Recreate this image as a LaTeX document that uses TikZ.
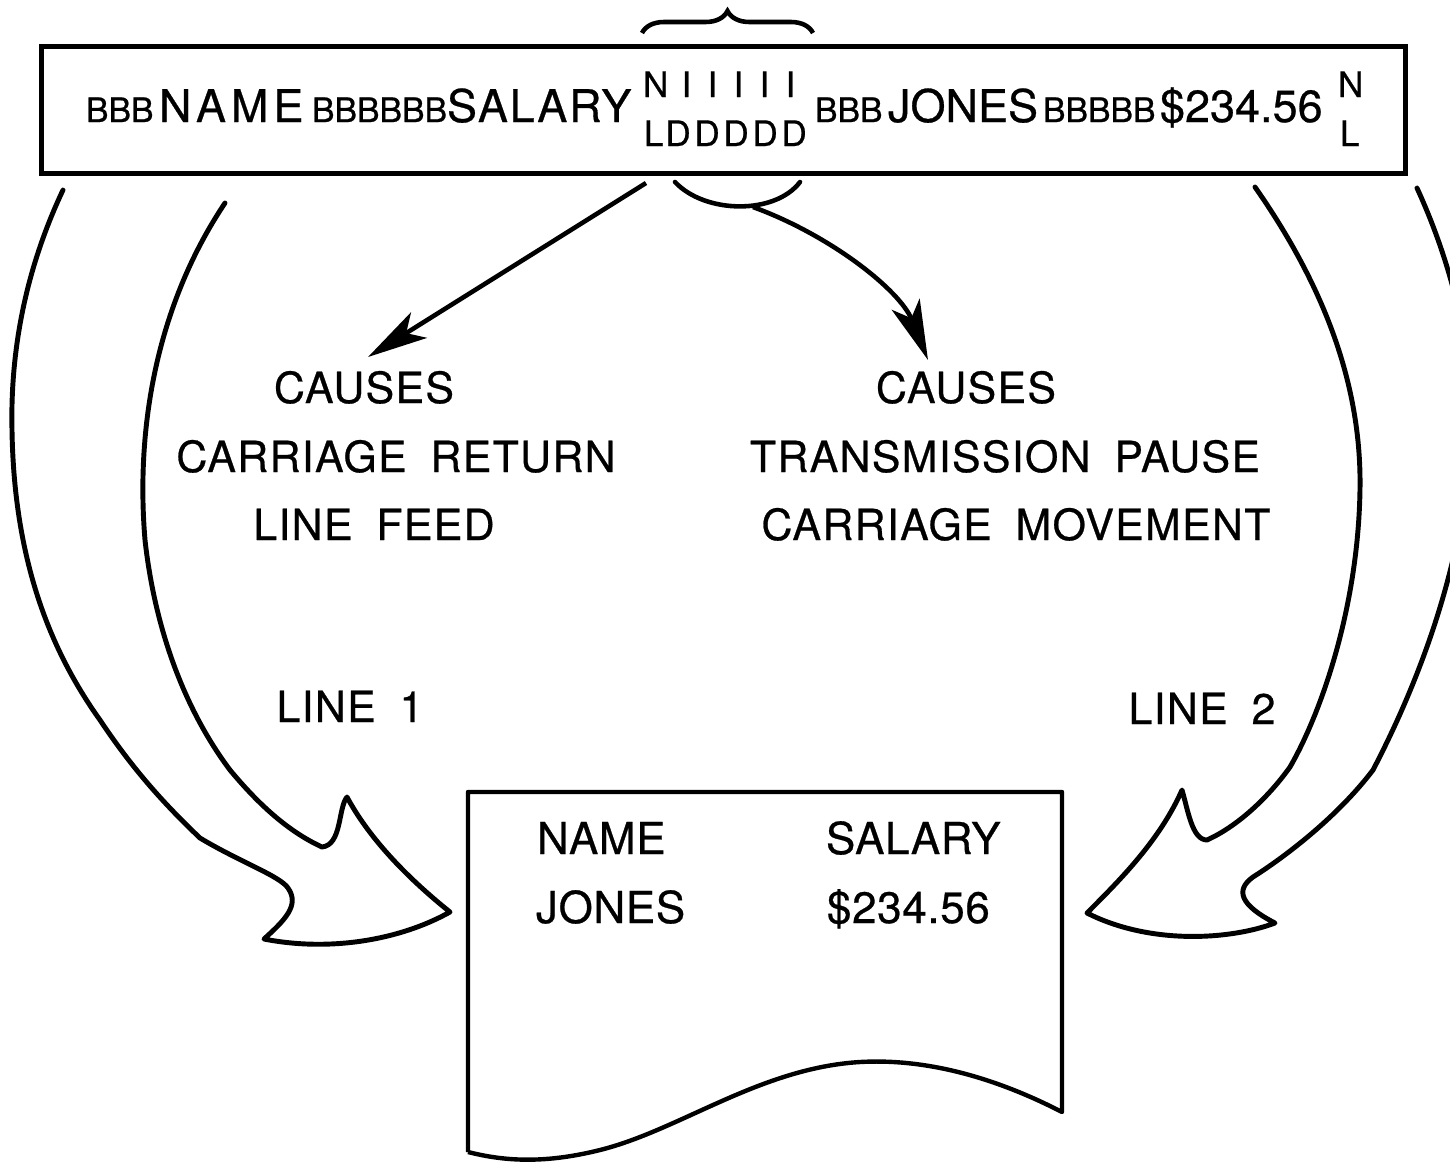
\documentclass[tikz,border=0pt]{standalone}
\usepackage{fontspec}
\setmainfont{TeX Gyre Heros}[FakeBold=0.6]
\newfontfamily\capfont[LetterSpace=3,WordSpace=1.8,FakeBold=0.6]{TeX Gyre Heros}
\newfontfamily\docfont[LetterSpace=1.5,FakeBold=0.6]{TeX Gyre Heros}
\newfontfamily\widefont[LetterSpace=11,FakeBold=0.6]{TeX Gyre Heros}
\newfontfamily\semifont[LetterSpace=4,FakeBold=0.6]{TeX Gyre Heros}
\usetikzlibrary{arrows.meta,decorations.pathreplacing}

\newcommand\bigtxt{\fontsize{12.8pt}{14pt}\selectfont}
\newcommand\widetxt{\widefont\fontsize{12.8pt}{14pt}\selectfont}
\newcommand\semitxt{\semifont\fontsize{12.8pt}{14pt}\selectfont}
\newcommand\smalltxt{\fontsize{9.6pt}{10pt}\selectfont}
\newcommand\stacktxt{\fontsize{10pt}{11pt}\selectfont}
\newcommand\captxt{\capfont\fontsize{12.2pt}{14pt}\selectfont}
\newcommand\doctxt{\docfont\fontsize{12.5pt}{14pt}\selectfont}
\newcommand\icell[1]{\makebox[0.26cm][c]{#1}}
\newcommand\dcell[1]{\makebox[0.29cm][c]{#1}}

\begin{document}
\begin{tikzpicture}[x=0.01cm,y=-0.01cm,
  every node/.style={inner sep=0pt,outer sep=0pt},
  rec/.style={line width=1.25pt},
  bigarrow/.style={line width=1.4pt,line join=round,line cap=round},
  lbl/.style={anchor=base,font=\captxt},
  doc/.style={anchor=base west,font=\doctxt},
  big/.style={anchor=base west,font=\bigtxt},
  sml/.style={anchor=base west,font=\smalltxt},
  stk/.style={anchor=base west,font=\stacktxt},
  ptr/.style={line width=1.3pt,-{Stealth[length=0.6cm,width=0.3cm,inset=0.15cm]}}
]
\clip (0,0) rectangle (1450,1162);

% --- the transmitted record ---
\node[draw,rec,minimum width=13.63cm,minimum height=1.27cm] (record) at (723.5,110) {};
\node[sml] (b1) at (86,122) {BBB};
\node[big,font=\widetxt] (w1) at (159,122) {NAME};
\node[sml] (b2) at (312,122) {BBBBBB};
\node[big,font=\semitxt] (w2) at (447,122) {SALARY};
\node[stk] (nl1) at (643,97) {N\hspace{0.05cm}\icell{I}\icell{I}\icell{I}\icell{I}\icell{I}};
\node[stk] (ld1) at (644,146) {L\dcell{D}\dcell{D}\dcell{D}\dcell{D}\dcell{D}};
\node[sml] (b3) at (815,122) {BBB};
\node[big] (w3) at (888,122) {JONES};
\node[sml] (b4) at (1043,122) {BBBBB};
\node[big] (w4) at (1160,122) {\$234.56};
\node[stk] (n2) at (1338,97) {N};
\node[stk] (l2) at (1340,146) {L};

% brace over the control characters
\coordinate (brL) at (642,33);
\coordinate (brR) at (813,33);
\draw[line width=1.3pt,decorate,decoration={brace,amplitude=0.22cm}] (brL) -- (brR);

% cup under the idle characters
\coordinate (cupL) at (675,182);
\coordinate (cupR) at (800,182);
\draw[line width=1.3pt,line cap=round] (cupL) .. controls (705,214) and (775,215) .. (cupR);

% --- explanation arrows ---
\coordinate (s1) at (646,183);
\coordinate (t1) at (368,357);
\draw[ptr] (s1) -- (t1);
\coordinate (s2) at (753,207);
\coordinate (t2) at (928,360);
\draw[ptr] (s2) .. controls (830,235) and (900,290) .. (t2);

\node[lbl] (c1) at (364,403) {CAUSES};
\node[lbl] (c2) at (396,472) {CARRIAGE RETURN};
\node[lbl] (c3) at (374,540) {LINE FEED};
\node[lbl] (d1) at (966,403) {CAUSES};
\node[lbl] (d2) at (1005,472) {TRANSMISSION PAUSE};
\node[lbl] (d3) at (1016,540) {CARRIAGE MOVEMENT};
\node[lbl] (line1) at (350,722) {LINE 1};
\node[lbl] (line2) at (1202,724) {LINE 2};

% --- printed page ---
\coordinate (pTL) at (468,792);
\coordinate (pTR) at (1062,792);
\coordinate (pBR) at (1062,1112);
\coordinate (pBL) at (468,1152);
\draw[rec,line join=round] (pBL) -- (pTL) -- (pTR) -- (pBR)
  .. controls (1000,1080) and (930,1058) .. (860,1062)
  .. controls (760,1068) and (680,1130) .. (600,1150)
  .. controls (540,1165) and (500,1160) .. (pBL);
\node[doc] (h1) at (537,854) {NAME};
\node[doc] (h2) at (826,854) {SALARY};
\node[doc] (r1) at (536,923) {JONES};
\node[doc] (r2) at (827,923) {\$234.56};

% --- big curved arrow, line 1 ---
\draw[bigarrow] (63,190) .. controls (30,260) and (10,340) .. (12,430)
  .. controls (14,560) and (50,650) .. (100,720)
  .. controls (130,765) and (160,800) .. (200,838)
  .. controls (240,862) and (280,876) .. (288,888)
  .. controls (300,905) and (285,920) .. (264,939)
  .. controls (330,952) and (400,940) .. (450,912)
  .. controls (410,880) and (370,840) .. (347,797)
  .. controls (338,808) and (342,845) .. (322,847)
  .. controls (285,830) and (255,800) .. (230,770)
  .. controls (185,710) and (155,630) .. (145,540)
  .. controls (135,420) and (160,300) .. (225,203);

% --- big curved arrow, line 2 ---
\draw[bigarrow] (1417,188) .. controls (1450,260) and (1475,350) .. (1470,440)
  .. controls (1465,560) and (1420,680) .. (1373,770)
  .. controls (1335,820) and (1280,860) .. (1253,877)
  .. controls (1235,890) and (1240,905) .. (1275,923)
  .. controls (1230,940) and (1150,945) .. (1087,913)
  .. controls (1120,880) and (1160,840) .. (1182,790)
  .. controls (1188,810) and (1192,840) .. (1207,840)
  .. controls (1240,825) and (1270,795) .. (1290,767)
  .. controls (1320,715) and (1358,610) .. (1360,490)
  .. controls (1362,380) and (1320,280) .. (1255,187);
\end{tikzpicture}
\end{document}
